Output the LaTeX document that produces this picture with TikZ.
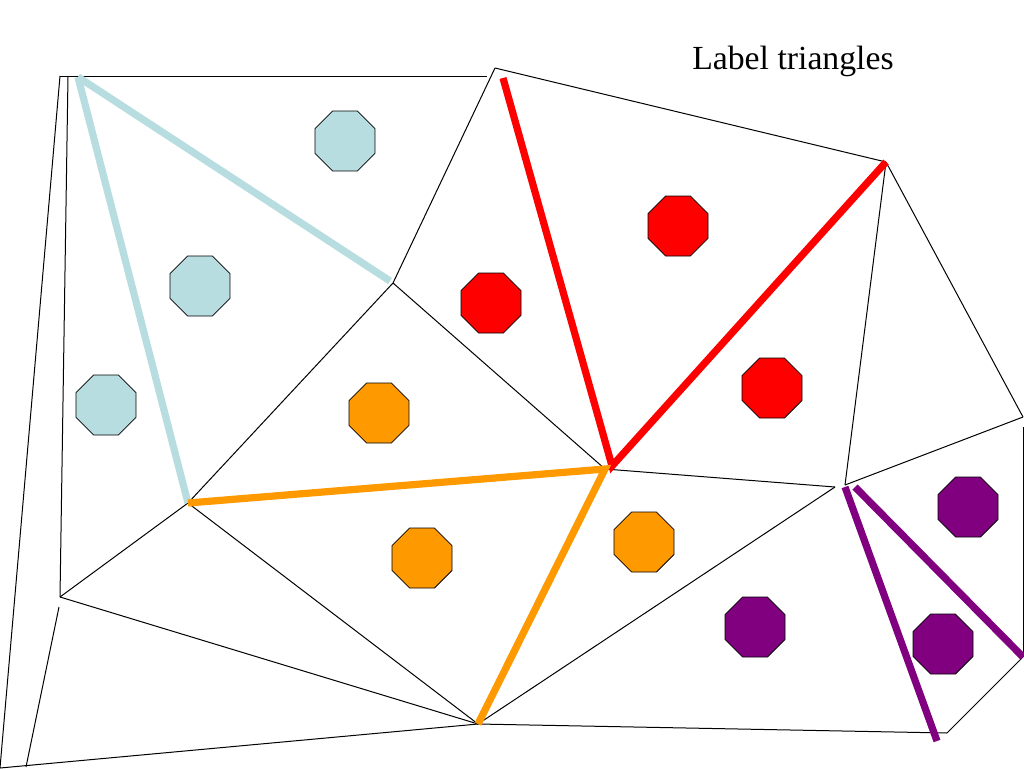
\documentclass[tikz,border=0pt]{standalone}
\usepackage{fontspec}
\setmainfont{Liberation Serif}
\usetikzlibrary{shapes.geometric}
\definecolor{lblue}{RGB}{183,221,224}
\definecolor{lred}{RGB}{255,0,0}
\definecolor{lorange}{RGB}{255,153,0}
\definecolor{lpurple}{RGB}{128,0,128}
\tikzset{
  edge/.style={draw=black,line width=0.75pt},
  band/.style={line width=5.4pt},
  oct/.style={regular polygon,regular polygon sides=8,minimum size=48.7pt,inner sep=0pt,draw=black,line width=0.6pt}
}
\begin{document}
\begin{tikzpicture}[x=0.75pt,y=-0.75pt]
\useasboundingbox (0,0) rectangle (1024,768);
\fill[white] (0,0) rectangle (1024,768);
% vertices
\coordinate (v1) at (60,76);
\coordinate (v2) at (68,76);
\coordinate (v3) at (487,76);
\coordinate (v4) at (495,68);
\coordinate (v5) at (886,162);
\coordinate (v6) at (1023,417);
\coordinate (v7) at (393,283);
\coordinate (v8) at (188,503);
\coordinate (v9) at (605,469);
\coordinate (v10) at (478,724);
\coordinate (v11) at (60,597);
\coordinate (v12) at (0,768);
\coordinate (v13) at (26,767);
\coordinate (v14) at (59,607);
\coordinate (v15) at (835,487);
\coordinate (v16) at (845,485);
\coordinate (v17) at (1023,427);
\coordinate (v18) at (1023,657);
\coordinate (v19) at (947,733);
% black triangulation
\draw[edge] (v1) -- (v12);
\draw[edge] (v2) -- (v11);
\draw[edge] (v1) -- (v3);
\draw[edge] (v14) -- (v13);
\draw[edge] (v12) -- (v10);
\draw[edge] (v11) -- (v8);
\draw[edge] (v11) -- (v10);
\draw[edge] (v8) -- (v10);
\draw[edge] (v8) -- (v7);
\draw[edge] (v7) -- (v4);
\draw[edge] (v7) -- (v9);
\draw[edge] (v4) -- (v5);
\draw[edge] (v5) -- (v16);
\draw[edge] (v5) -- (v6);
\draw[edge] (v16) -- (v6);
\draw[edge] (v9) -- (v15);
\draw[edge] (v15) -- (v10);
\draw[edge] (v10) -- (v19);
\draw[edge] (v19) -- (v18);
\draw[edge] (v18) -- (v17);
% coloured bands
\coordinate (b1) at (78,77);
\coordinate (b2) at (390,281);
\coordinate (r1) at (503,78);
\coordinate (r2) at (612,466);
\coordinate (p1) at (845,487);
\coordinate (p2) at (937,741);
\coordinate (p3) at (855,487);
\draw[band,lblue] (b1) -- (v8);
\draw[band,lblue] (b1) -- (b2);
\draw[band,lred] (r1) -- (r2) -- (v5);
\draw[band,lorange] (v8) -- (v9) -- (v10);
\draw[band,lpurple] (p1) -- (p2);
\draw[band,lpurple] (p3) -- (v18);
% octagons
\node[oct,fill=lblue] (c1) at (345,141) {};
\node[oct,fill=lblue] (c2) at (200,286) {};
\node[oct,fill=lblue] (c3) at (106,405) {};
\node[oct,fill=lred] (c4) at (678,226) {};
\node[oct,fill=lred] (c5) at (491,303) {};
\node[oct,fill=lred] (c6) at (772,388) {};
\node[oct,fill=lorange] (c7) at (379,413) {};
\node[oct,fill=lorange] (c8) at (422,558) {};
\node[oct,fill=lorange] (c9) at (644,542) {};
\node[oct,fill=lpurple] (c10) at (968,507) {};
\node[oct,fill=lpurple] (c11) at (755,627) {};
\node[oct,fill=lpurple] (c12) at (943,644) {};
% title
\node[anchor=base west,inner sep=0pt,font=\fontsize{25.3pt}{30pt}\selectfont] (title) at (692,69) {Label triangles};
\end{tikzpicture}
\end{document}
